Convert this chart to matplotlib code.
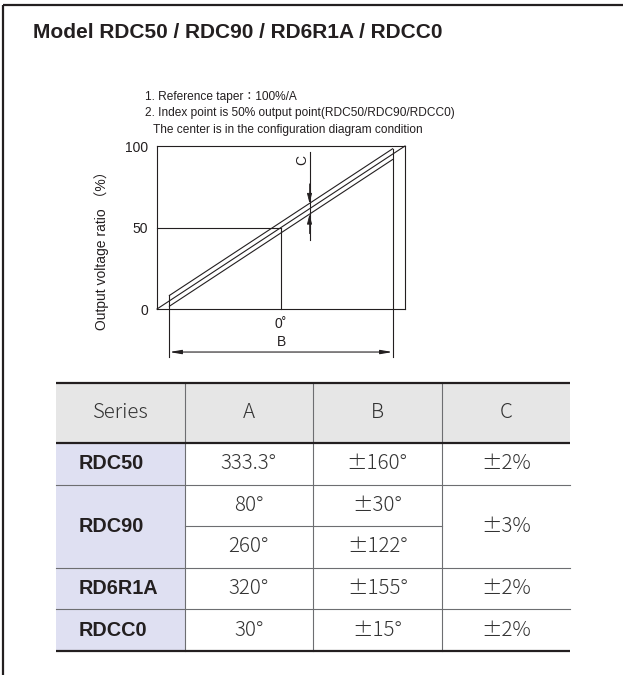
import matplotlib.pyplot as plt
from matplotlib.patches import Rectangle

W, H = 623, 675
DPI = 100
INK = '#231f20'
GRID = '#6d6e71'
HEAD_BG = '#e6e6e6'
SERIES_BG = '#dfe0f2'

title = "Model RDC50 / RDC90 / RD6R1A / RDCC0"
notes = ["1. Reference taper：100%/A",
         "2. Index point is 50% output point(RDC50/RDC90/RDCC0)",
         "The center is in the configuration diagram condition"]

# schematic diagram: angle axis -1..1, output ratio 0..100 %
taper_x = [-1, 1]
taper_y = [0, 100]
index_pt = (0, 50)
band_x = [-0.9, 0.9]     # ends of the +-B range
band_c = 3.3             # +-C tolerance band (%)
c_mark_x = 0.23
c_line_y = [96.3, 42.3]
dim_y = -26.4            # B dimension line
y_ticks = [0, 50, 100]

# table
headers = ["Series", "A", "B", "C"]
series = ["RDC50", "RDC90", "RD6R1A", "RDCC0"]
a_vals = [["333.3°"], ["80°", "260°"], ["320°"], ["30°"]]
b_vals = [["±160°"], ["±30°", "±122°"], ["±155°"], ["±15°"]]
c_vals = ["±2%", "±3%", "±2%", "±2%"]

SANS = ['Liberation Sans', 'Noto Sans CJK JP', 'DejaVu Sans']
LIGHT = ['Noto Sans CJK JP', 'DejaVu Sans']
CELL_FS = 14.8

fig = plt.figure(figsize=(W / DPI, H / DPI), dpi=DPI)

# overlay in pixel units for frame, texts and table
bg = fig.add_axes([0, 0, 1, 1])
bg.set_xlim(0, W)
bg.set_ylim(H, 0)
bg.axis('off')

# frame (top + left only)
bg.plot([3, W], [5, 5], color=INK, lw=1.6, solid_capstyle='butt')
bg.plot([3, 3], [5, H], color=INK, lw=1.6, solid_capstyle='butt')

bg.text(33, 33, title, fontsize=15, fontweight='bold', family=SANS,
        color=INK, va='center', ha='left')
for i, (nx, ny) in enumerate([(145, 97), (145, 113), (153, 130)]):
  bg.text(nx, ny, notes[i], fontsize=8.6, family=SANS, color=INK,
          va='center', ha='left')

# ---- diagram ----
ax = fig.add_axes([157 / W, 1 - 309 / H, 248 / W, 163 / H])
ax.set_xlim(taper_x)
ax.set_ylim(taper_y)
for s in ax.spines.values():
  s.set_color(INK)
  s.set_linewidth(0.8)
ax.set_xticks([])
ax.set_yticks(y_ticks)
ax.set_yticklabels([str(t) for t in y_ticks], fontsize=10, family=SANS, color=INK)
ax.tick_params(axis='y', length=0, pad=6.5)
ax.set_ylabel("Output voltage ratio （%）", fontsize=10, family=SANS, color=INK)
ax.yaxis.set_label_coords(-0.194, 0.38)

def taper(x):
  return taper_y[0] + (x - taper_x[0]) / (taper_x[1] - taper_x[0]) * (taper_y[1] - taper_y[0])

kw = dict(color=INK, lw=0.8, clip_on=False)
ax.plot(taper_x, taper_y, **kw)
ax.plot(band_x, [taper(x) + band_c for x in band_x], **kw)
ax.plot(band_x, [taper(x) - band_c for x in band_x], **kw)
for bx in band_x:
  ax.plot([bx, bx], [taper(bx) + band_c, dim_y - 3], **kw)
ax.plot([taper_x[0], index_pt[0]], [index_pt[1], index_pt[1]], **kw)
ax.plot([index_pt[0], index_pt[0]], [0, index_pt[1]], **kw)

# C mark
ax.plot([c_mark_x, c_mark_x], c_line_y, **kw)
head = dict(arrowstyle='-|>,head_length=0.6,head_width=0.15', color=INK, lw=0.6,
            shrinkA=0, shrinkB=0)
ax.annotate('', xy=(c_mark_x, taper(c_mark_x) + band_c),
            xytext=(c_mark_x, taper(c_mark_x) + band_c + 12), arrowprops=head)
ax.annotate('', xy=(c_mark_x, taper(c_mark_x) - band_c),
            xytext=(c_mark_x, taper(c_mark_x) - band_c - 12), arrowprops=head)
ax.text(c_mark_x - 0.06, 91.4, "C", rotation=90, fontsize=10, family=SANS,
        color=INK, ha='center', va='center')

# B dimension
ax.annotate('', xy=(band_x[0], dim_y), xytext=(band_x[1], dim_y),
            arrowprops=dict(arrowstyle='<|-|>,head_length=0.7,head_width=0.12',
                            color=INK, lw=0.8, shrinkA=0, shrinkB=0),
            annotation_clip=False)
ax.text(index_pt[0], -9.2, "0˚", fontsize=10, family=SANS, color=INK,
        ha='center', va='center')
ax.text(index_pt[0], -20.2, "B", fontsize=10, family=SANS, color=INK,
        ha='center', va='center')

# ---- table ----
t_left, t_top = 56, 383
col_w = 128.5
head_h = 60
row_h = 41.6
n_cols = len(headers)
t_right = t_left + n_cols * col_w
n_sub = sum(len(a) for a in a_vals)
t_bottom = t_top + head_h + n_sub * row_h
col_x = [t_left + i * col_w for i in range(n_cols + 1)]

bg.add_patch(Rectangle((t_left, t_top), t_right - t_left, head_h,
                       facecolor=HEAD_BG, edgecolor='none'))
bg.add_patch(Rectangle((t_left, t_top + head_h), col_w, n_sub * row_h,
                       facecolor=SERIES_BG, edgecolor='none'))

for i, h in enumerate(headers):
  bg.text((col_x[i] + col_x[i + 1]) / 2, t_top + head_h / 2, h, fontsize=CELL_FS,
          family=LIGHT, fontweight='light', color='#333333',
          ha='center', va='center')

y = t_top + head_h
for g, name in enumerate(series):
  n = len(a_vals[g])
  mid = y + n * row_h / 2
  bg.text(t_left + 23, mid, name, fontsize=14.3, fontweight='bold', family=SANS,
          color=INK, ha='left', va='center')
  bg.text((col_x[3] + col_x[4]) / 2, mid, c_vals[g], fontsize=CELL_FS, family=LIGHT,
          fontweight='light', color='#333333', ha='center', va='center')
  for k in range(n):
    cy = y + (k + 0.5) * row_h
    bg.text((col_x[1] + col_x[2]) / 2, cy, a_vals[g][k], fontsize=CELL_FS,
            family=LIGHT, fontweight='light', color='#333333',
            ha='center', va='center')
    bg.text((col_x[2] + col_x[3]) / 2, cy, b_vals[g][k], fontsize=CELL_FS,
            family=LIGHT, fontweight='light', color='#333333',
            ha='center', va='center')
    if k > 0:
      bg.plot([col_x[1], col_x[3]], [y + k * row_h] * 2, color=GRID, lw=0.8)
  y += n * row_h
  if g < len(series) - 1:
    bg.plot([t_left, t_right], [y, y], color=GRID, lw=0.8)

for cx in col_x[1:-1]:
  bg.plot([cx, cx], [t_top, t_bottom], color=GRID, lw=0.8)
for ly in [t_top, t_top + head_h, t_bottom]:
  bg.plot([t_left, t_right], [ly, ly], color=INK, lw=1.6, solid_capstyle='butt')

plt.savefig('out.png', dpi=DPI)
